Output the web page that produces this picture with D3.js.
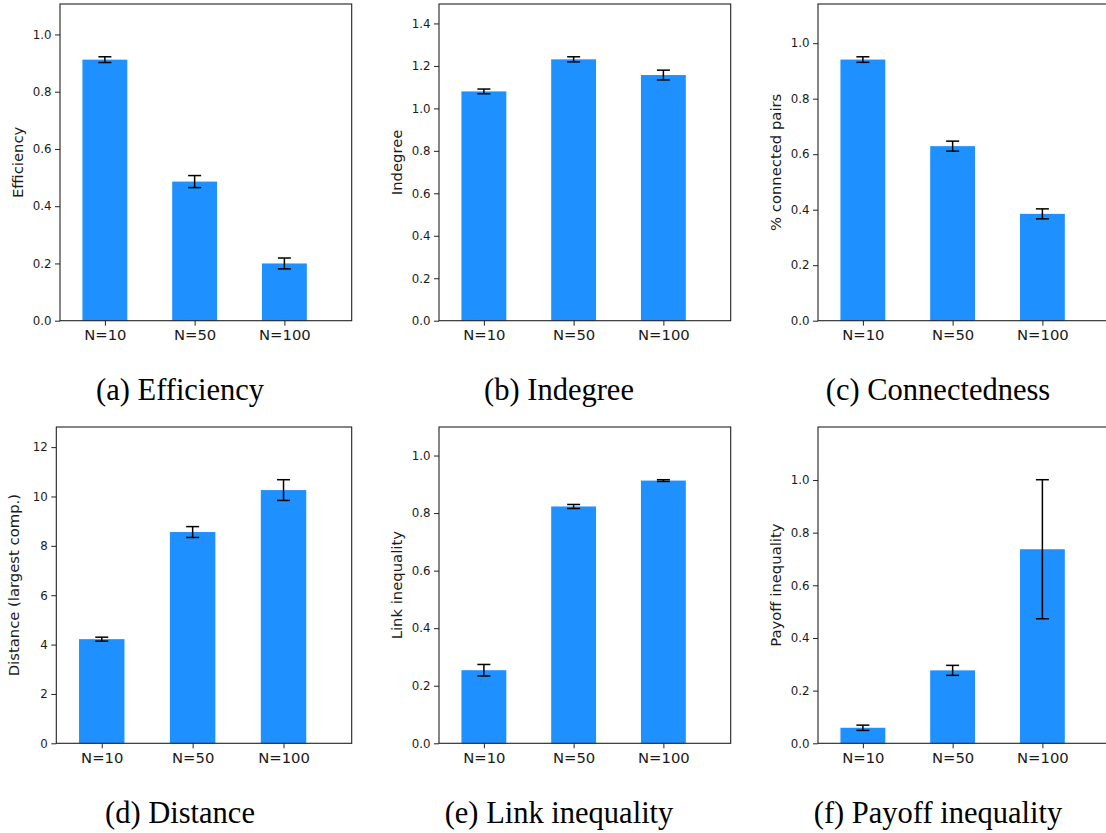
<!DOCTYPE html>
<html>
<head>
<meta charset="utf-8">
<script src="https://cdn.jsdelivr.net/npm/d3@7"></script>
<style>
  body { margin: 0; background: #fff; }
  svg { display: block; }
  .tick text { font-family: "DejaVu Sans", sans-serif; fill: #1a1a1a; }
</style>
</head>
<body>
<div id="plot"></div>
<script>
const categories = ["N=10", "N=50", "N=100"];

const efficiency = [0.912, 0.486, 0.200];
const efficiencyErr = [0.010, 0.021, 0.019];

const indegree = [1.080, 1.231, 1.157];
const indegreeErr = [0.011, 0.012, 0.023];

const connected = [0.941, 0.629, 0.385];
const connectedErr = [0.010, 0.018, 0.018];

const distance = [4.22, 8.56, 10.26];
const distanceErr = [0.08, 0.22, 0.42];

const linkIneq = [0.254, 0.823, 0.913];
const linkIneqErr = [0.020, 0.007, 0.003];

const payoffIneq = [0.059, 0.277, 0.737];
const payoffIneqErr = [0.010, 0.019, 0.264];

const yLabels = ["Efficiency", "Indegree", "% connected pairs", "Distance (largest comp.)", "Link inequality", "Payoff inequality"];
const captions = ["(a) Efficiency", "(b) Indegree", "(c) Connectedness", "(d) Distance", "(e) Link inequality", "(f) Payoff inequality"];
const yTicks = [
  [0, 0.2, 0.4, 0.6, 0.8, 1.0],
  [0, 0.2, 0.4, 0.6, 0.8, 1.0, 1.2, 1.4],
  [0, 0.2, 0.4, 0.6, 0.8, 1.0],
  [0, 2, 4, 6, 8, 10, 12],
  [0, 0.2, 0.4, 0.6, 0.8, 1.0],
  [0, 0.2, 0.4, 0.6, 0.8, 1.0]
];

const values = [efficiency, indegree, connected, distance, linkIneq, payoffIneq];
const errors = [efficiencyErr, indegreeErr, connectedErr, distanceErr, linkIneqErr, payoffIneqErr];

// axes boxes (pixels)
const boxes = [
  { x: 60, y: 4, w: 291.7, h: 316.7 },
  { x: 439, y: 4, w: 291.7, h: 316.7 },
  { x: 818, y: 4, w: 291.7, h: 316.7 },
  { x: 56.3, y: 427, w: 295.4, h: 316.3 },
  { x: 439, y: 427, w: 291.7, h: 316.3 },
  { x: 818, y: 427, w: 291.7, h: 316.3 }
];
const captionX = [180, 559, 938];

const svg = d3.select("#plot")
  .append("svg")
  .attr("width", 1106)
  .attr("height", 833);

values.forEach((vals, p) => {
  const b = boxes[p];
  const errs = errors[p];
  const g = svg.append("g").attr("transform", `translate(${b.x},${b.y})`);

  const x = d3.scaleLinear().domain([-0.5, 2.75]).range([0, b.w]);
  const yMax = d3.max(vals, (v, i) => v + errs[i]) * 1.2;
  const y = d3.scaleLinear().domain([0, yMax]).range([b.h, 0]);

  g.selectAll(".bar")
    .data(vals)
    .enter()
    .append("rect")
    .attr("class", "bar")
    .attr("x", (d, i) => x(i - 0.25))
    .attr("width", (d, i) => x(i + 0.25) - x(i - 0.25))
    .attr("y", d => y(d))
    .attr("height", d => y(0) - y(d))
    .attr("fill", "#1e90ff");

  // error bars
  const eb = g.selectAll(".err")
    .data(vals)
    .enter()
    .append("g")
    .attr("class", "err")
    .attr("stroke", "#000")
    .attr("stroke-width", 1.5);
  eb.append("line")
    .attr("x1", (d, i) => x(i)).attr("x2", (d, i) => x(i))
    .attr("y1", (d, i) => y(d + errs[i])).attr("y2", (d, i) => y(d - errs[i]));
  eb.append("line")
    .attr("x1", (d, i) => x(i) - 6.5).attr("x2", (d, i) => x(i) + 6.5)
    .attr("y1", (d, i) => y(d + errs[i])).attr("y2", (d, i) => y(d + errs[i]));
  eb.append("line")
    .attr("x1", (d, i) => x(i) - 6.5).attr("x2", (d, i) => x(i) + 6.5)
    .attr("y1", (d, i) => y(d - errs[i])).attr("y2", (d, i) => y(d - errs[i]));

  const fmt = p === 3 ? d3.format("d") : d3.format(".1f");
  const yAxis = g.append("g")
    .call(d3.axisLeft(y).tickValues(yTicks[p]).tickFormat(fmt).tickSize(5).tickPadding(3.5));
  yAxis.selectAll(".tick text").style("font-size", "11.8px");

  const xAxis = g.append("g")
    .attr("transform", `translate(0,${b.h})`)
    .call(d3.axisBottom(x).tickValues([0, 1, 2]).tickFormat(i => categories[i]).tickSize(5).tickPadding(4));
  xAxis.selectAll(".tick text").style("font-size", "14.8px");

  [yAxis, xAxis].forEach(a => {
    a.select(".domain").remove();
    a.selectAll(".tick line").attr("stroke", "#222").attr("stroke-width", 1);
  });

  // frame
  g.append("rect")
    .attr("width", b.w)
    .attr("height", b.h)
    .attr("fill", "none")
    .attr("stroke", "#222")
    .attr("stroke-width", 1.1);

  g.append("text")
    .attr("transform", "rotate(-90)")
    .attr("x", -b.h / 2)
    .attr("y", -37.5)
    .attr("text-anchor", "middle")
    .style("font-family", "DejaVu Sans, sans-serif")
    .style("font-size", "14.8px")
    .style("fill", "#1a1a1a")
    .text(yLabels[p]);

  svg.append("text")
    .attr("x", captionX[p % 3])
    .attr("y", b.y + b.h + 79.5)
    .attr("text-anchor", "middle")
    .style("font-family", "Liberation Serif, serif")
    .style("font-size", "30.5px")
    .style("fill", "#000")
    .text(captions[p]);
});
</script>
</body>
</html>
